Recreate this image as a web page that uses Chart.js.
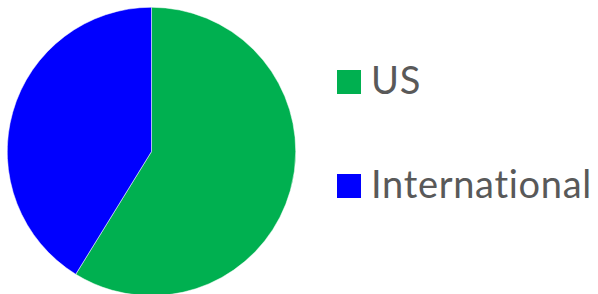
<!DOCTYPE html>
<html>
<head>
<meta charset="utf-8">
<script src="https://cdn.jsdelivr.net/npm/chart.js@4/dist/chart.umd.min.js"></script>
<style>
  html, body { margin: 0; padding: 0; background: #fff; overflow: hidden; }
  body { width: 598px; height: 294px; position: relative; font-family: Lato, "Open Sans", sans-serif; }
  #caja-pastel { position: absolute; left: 0; top: 0; width: 303px; height: 303px; }
  .item { position: absolute; left: 337px; display: flex; align-items: center; color: #595959; font-size: 38px; line-height: 38px; white-space: nowrap; }
  .cuadro { width: 24px; height: 24px; margin-right: 10px; flex: none; }
  .texto { position: relative; top: -3px; letter-spacing: 0.7px; }
</style>
</head>
<body>
<div id="caja-pastel"><canvas id="pastel"></canvas></div>
<div id="leyenda"></div>
<script>
// datos
const CATEGORIAS = ['US', 'International'];
const VALORES    = [58.8, 41.2];
const COLORES    = ['#00B050', '#0000FF'];

new Chart(document.getElementById('pastel'), {
  type: 'pie',
  data: {
    labels: CATEGORIAS,
    datasets: [{
      data: VALORES,
      backgroundColor: COLORES,
      borderColor: '#fff',
      borderWidth: 0.5,
      hoverOffset: 0
    }]
  },
  options: {
    responsive: true,
    maintainAspectRatio: false,
    animation: false,
    layout: { padding: 7 },
    plugins: { legend: { display: false }, tooltip: { enabled: false } }
  }
});

// leyenda a la derecha
const POS_Y = [63, 167];
document.getElementById('leyenda').innerHTML = CATEGORIAS.map((c, i) => `
  <div class="item" style="top:${POS_Y[i]}px;">
    <span class="cuadro" style="background:${COLORES[i]};"></span><span class="texto">${c}</span>
  </div>
`).join('');
</script>
</body>
</html>
